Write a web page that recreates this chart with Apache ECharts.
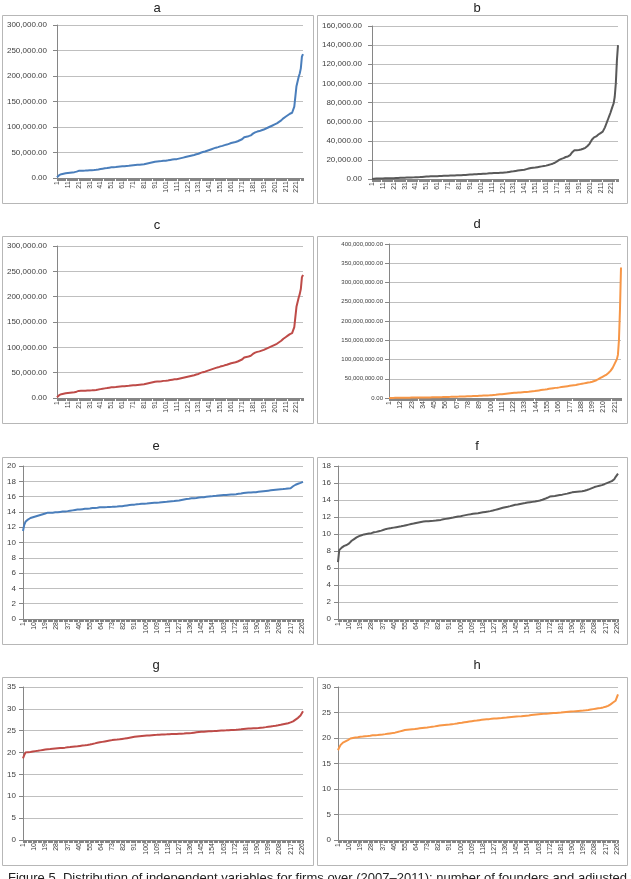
<!DOCTYPE html>
<html lang="en">
<head>
    <meta charset="UTF-8">
    <title>Figure 5</title>
    <script type="text/javascript" src="https://cdn.jsdelivr.net/npm/echarts@6/dist/echarts.min.js"></script>
    <style>
        html, body { margin: 0; padding: 0; background: #fff; }
        #main { width: 631px; height: 879px; }
    </style>
</head>
<body>
<div id="main"></div>
<script>
    // firm index 1..227 on every x axis
    var categories = [];
    for (var i = 1; i <= 227; i++) {
        categories.push(String(i));
    }

    // a and c (in thousands)
    var valuesA = [
        1.5, 4, 5.5, 6.5, 7.5, 8, 8.5, 9, 9.5, 10,
        10, 10.3, 10.5, 11, 11, 11.2, 11.5, 12, 12.5, 13.5,
        14, 14, 14.2, 14.3, 14.4, 14.5, 14.5, 14.6, 14.8, 15,
        15, 15.1, 15.2, 15.3, 15.5, 15.8, 16, 16.3, 16.7, 17,
        17.5, 18, 18.3, 18.6, 19, 19.3, 19.6, 20, 20.3, 20.6,
        21, 21.2, 21.3, 21.5, 21.7, 22, 22.2, 22.4, 22.6, 22.8,
        23, 23.1, 23.2, 23.4, 23.6, 23.8, 24, 24.2, 24.5, 24.8,
        25, 25.2, 25.4, 25.6, 25.8, 26, 26.2, 26.4, 26.6, 26.8,
        27, 27.5, 28, 28.5, 29, 29.5, 30, 30.5, 31, 31.5,
        32, 32.2, 32.4, 32.6, 32.8, 33, 33.2, 33.5, 33.8, 34,
        34, 34.3, 34.6, 35, 35.4, 35.8, 36.2, 36.5, 36.8, 37,
        37, 37.5, 38, 38.5, 39, 39.5, 40, 40.5, 41, 41.5,
        42, 42.5, 43, 43.5, 44, 44.5, 45, 45.5, 46.5, 47,
        47.5, 48.5, 49.5, 50.5, 51, 51.5, 52, 53, 53.5, 54,
        55, 56, 56.5, 57.5, 58, 58.5, 59.5, 60, 60.5, 61,
        62, 62.5, 63, 63.5, 64.5, 65, 65.5, 66.5, 67, 68,
        68.5, 69, 69.5, 70, 70.5, 71, 72, 73, 74, 75,
        76, 79, 80, 80.5, 81, 81.5, 82, 82.5, 83.5, 85,
        87, 88.5, 89.5, 90, 91, 91.5, 92, 93, 93.5, 94,
        95, 96, 97, 98, 99, 100, 101, 102, 103, 104,
        105, 106, 107, 108.5, 110, 111.5, 113, 115, 117, 119,
        120, 121.5, 123, 124.5, 126, 127, 128, 131, 140, 160,
        180, 182, 198, 205, 215, 238, 243
    ];
    var valuesC = valuesA;

    // b (in thousands)
    var valuesB = [
        0.1, 0.2, 0.3, 0.3, 0.4, 0.4, 0.5, 0.5, 0.5, 0.6,
        0.6, 0.6, 0.7, 0.7, 0.7, 0.8, 0.8, 0.8, 0.9, 0.9,
        0.9, 1.0, 1.0, 1.0, 1.1, 1.1, 1.2, 1.2, 1.3, 1.3,
        1.4, 1.4, 1.5, 1.5, 1.5, 1.6, 1.6, 1.7, 1.7, 1.8,
        1.8, 1.9, 1.9, 2.0, 2.0, 2.1, 2.2, 2.3, 2.4, 2.5,
        2.6, 2.6, 2.7, 2.7, 2.8, 2.8, 2.9, 2.9, 3.0, 3.0,
        3.0, 3.1, 3.1, 3.2, 3.2, 3.3, 3.3, 3.4, 3.4, 3.5,
        3.5, 3.5, 3.6, 3.6, 3.6, 3.7, 3.7, 3.8, 3.8, 3.9,
        3.9, 4.0, 4.0, 4.1, 4.2, 4.2, 4.3, 4.4, 4.5, 4.5,
        4.6, 4.7, 4.7, 4.8, 4.9, 4.9, 5.0, 5.0, 5.1, 5.1,
        5.2, 5.3, 5.4, 5.5, 5.6, 5.6, 5.7, 5.8, 5.9, 6.0,
        6.0, 6.1, 6.2, 6.2, 6.3, 6.4, 6.4, 6.5, 6.5, 6.6,
        6.6, 6.7, 6.8, 6.9, 7.0, 7.2, 7.4, 7.6, 7.8, 7.9,
        8.0, 8.2, 8.4, 8.6, 8.8, 9.0, 9.1, 9.2, 9.4, 9.5,
        9.7, 10.0, 10.3, 10.6, 10.9, 11.2, 11.4, 11.6, 11.8, 11.9,
        12.0, 12.2, 12.4, 12.6, 12.8, 13.0, 13.2, 13.4, 13.6, 13.8,
        14.0, 14.3, 14.6, 15.0, 15.3, 15.6, 16.0, 16.5, 17.0, 17.6,
        18.4, 19.2, 20.0, 20.6, 21.0, 21.3, 21.8, 22.4, 23.0, 23.3,
        23.6, 24.0, 25.0, 26.5, 28.0, 29.5, 30.0, 30.0, 30.1, 30.2,
        30.3, 30.5, 30.8, 31.2, 31.6, 32.0, 32.6, 33.4, 34.5, 35.8,
        37.0, 39.0, 41.0, 43.0, 43.5, 44.0, 44.5, 45.0, 46.5, 47.2,
        48.0, 48.6, 49.5, 51.5, 54.0, 57.0, 60.0, 63.0, 66.0, 69.0,
        72.5, 76.0, 79.0, 86.0, 100.0, 124.0, 140.0
    ];

    // d (in millions)
    var valuesD = [
        0.1, 0.2, 0.2, 0.3, 0.3, 0.4, 0.4, 0.5, 0.5, 0.5,
        0.6, 0.6, 0.7, 0.7, 0.7, 0.8, 0.8, 0.8, 0.9, 0.9,
        0.9, 1.0, 1.0, 1.0, 1.1, 1.1, 1.1, 1.2, 1.2, 1.2,
        1.3, 1.3, 1.3, 1.4, 1.4, 1.4, 1.5, 1.5, 1.5, 1.6,
        1.6, 1.7, 1.7, 1.8, 1.8, 1.9, 1.9, 2.0, 2.0, 2.1,
        2.2, 2.2, 2.3, 2.4, 2.5, 2.6, 2.7, 2.8, 2.9, 3.0,
        3.0, 3.1, 3.2, 3.3, 3.3, 3.4, 3.5, 3.6, 3.6, 3.7,
        3.8, 3.9, 4.0, 4.0, 4.1, 4.2, 4.3, 4.4, 4.5, 4.6,
        4.7, 4.8, 4.9, 5.0, 5.1, 5.2, 5.4, 5.6, 5.8, 6.0,
        6.1, 6.2, 6.3, 6.4, 6.5, 6.6, 6.7, 6.8, 6.9, 7.0,
        7.2, 7.5, 7.8, 8.0, 8.3, 8.6, 8.9, 9.2, 9.5, 9.8,
        10.0, 10.3, 10.6, 10.9, 11.2, 11.5, 11.8, 12.1, 12.4, 12.7,
        13.0, 13.2, 13.4, 13.6, 13.8, 14.0, 14.2, 14.4, 14.6, 14.8,
        15.0, 15.2, 15.4, 15.6, 15.8, 16.0, 16.3, 16.6, 16.9, 17.2,
        17.5, 17.8, 18.1, 18.5, 18.9, 19.3, 19.7, 20.1, 20.5, 20.9,
        21.3, 21.7, 22.1, 22.5, 23.0, 23.5, 24.0, 24.4, 24.8, 25.2,
        25.6, 26.0, 26.3, 26.6, 26.9, 27.2, 27.6, 28.0, 28.4, 28.8,
        29.2, 29.6, 30.0, 30.4, 30.8, 31.2, 31.6, 32.0, 32.4, 32.8,
        33.2, 33.6, 34.0, 34.5, 35.0, 35.5, 36.0, 36.5, 37.0, 37.5,
        38.0, 38.5, 39.0, 39.5, 40.0, 40.5, 41.0, 41.5, 42.2, 43.0,
        44.0, 45.0, 46.2, 47.5, 49.0, 50.5, 52.0, 53.5, 55.0, 56.5,
        58.0, 59.5, 61.0, 63.0, 65.5, 68.0, 71.0, 75.0, 79.0, 84.0,
        90.0, 95.0, 101.0, 112.0, 150.0, 230.0, 339.0
    ];

    var valuesE = [
        11.5, 12.3, 12.7, 12.9, 13.0, 13.1, 13.2, 13.25, 13.3, 13.35,
        13.4, 13.45, 13.5, 13.55, 13.6, 13.65, 13.7, 13.75, 13.8, 13.85,
        13.9, 13.9, 13.9, 13.9, 13.9, 13.9, 13.95, 13.95, 13.95, 14.0,
        14.0, 14.0, 14.05, 14.05, 14.05, 14.1, 14.1, 14.1, 14.15, 14.15,
        14.2, 14.2, 14.25, 14.25, 14.3, 14.3, 14.3, 14.35, 14.35, 14.4,
        14.4, 14.4, 14.42, 14.45, 14.45, 14.47, 14.5, 14.5, 14.52, 14.55,
        14.55, 14.57, 14.6, 14.6, 14.6, 14.6, 14.62, 14.62, 14.63, 14.64,
        14.65, 14.65, 14.66, 14.67, 14.68, 14.7, 14.7, 14.72, 14.73, 14.74,
        14.75, 14.77, 14.8, 14.82, 14.85, 14.87, 14.9, 14.92, 14.93, 14.94,
        14.95, 14.97, 15.0, 15.0, 15.02, 15.04, 15.05, 15.07, 15.08, 15.1,
        15.1, 15.12, 15.13, 15.15, 15.16, 15.17, 15.18, 15.19, 15.2, 15.22,
        15.23, 15.25, 15.27, 15.29, 15.3, 15.32, 15.33, 15.35, 15.37, 15.38,
        15.4, 15.42, 15.43, 15.45, 15.47, 15.48, 15.5, 15.53, 15.56, 15.59,
        15.62, 15.65, 15.68, 15.7, 15.72, 15.75, 15.77, 15.79, 15.8, 15.82,
        15.83, 15.85, 15.87, 15.88, 15.9, 15.92, 15.93, 15.95, 15.97, 15.98,
        16.0, 16.01, 16.03, 16.05, 16.07, 16.08, 16.1, 16.12, 16.14, 16.16,
        16.18, 16.19, 16.2, 16.21, 16.22, 16.23, 16.25, 16.26, 16.27, 16.28,
        16.29, 16.3, 16.32, 16.34, 16.36, 16.38, 16.4, 16.43, 16.46, 16.48,
        16.5, 16.51, 16.52, 16.53, 16.54, 16.55, 16.56, 16.57, 16.58, 16.6,
        16.62, 16.64, 16.66, 16.68, 16.7, 16.72, 16.74, 16.76, 16.78, 16.8,
        16.82, 16.84, 16.86, 16.88, 16.9, 16.92, 16.94, 16.95, 16.96, 16.97,
        16.98, 17.0, 17.02, 17.05, 17.07, 17.08, 17.1, 17.2, 17.35, 17.45,
        17.55, 17.62, 17.68, 17.75, 17.8, 17.87, 17.93
    ];

    var valuesF = [
        6.7, 8.1, 8.3, 8.4, 8.5, 8.6, 8.65, 8.7, 8.8, 8.9,
        9.05, 9.2, 9.3, 9.4, 9.5, 9.6, 9.7, 9.75, 9.8, 9.85,
        9.9, 9.95, 10.0, 10.0, 10.02, 10.05, 10.07, 10.1, 10.15, 10.2,
        10.22, 10.25, 10.3, 10.33, 10.36, 10.4, 10.45, 10.5, 10.55, 10.6,
        10.63, 10.66, 10.7, 10.7, 10.72, 10.75, 10.77, 10.8, 10.82, 10.85,
        10.88, 10.9, 10.93, 10.96, 11.0, 11.03, 11.06, 11.1, 11.13, 11.17,
        11.2, 11.23, 11.26, 11.3, 11.33, 11.36, 11.39, 11.42, 11.44, 11.46,
        11.48, 11.5, 11.5, 11.51, 11.52, 11.53, 11.54, 11.55, 11.56, 11.58,
        11.6, 11.62, 11.64, 11.66, 11.7, 11.73, 11.76, 11.78, 11.8, 11.83,
        11.85, 11.88, 11.9, 11.93, 11.96, 11.99, 12.02, 12.05, 12.07, 12.1,
        12.13, 12.16, 12.19, 12.22, 12.25, 12.28, 12.3, 12.32, 12.35, 12.37,
        12.39, 12.41, 12.43, 12.45, 12.47, 12.5, 12.52, 12.55, 12.57, 12.6,
        12.62, 12.64, 12.66, 12.69, 12.72, 12.76, 12.8, 12.84, 12.88, 12.92,
        12.96, 13.0, 13.04, 13.08, 13.12, 13.15, 13.18, 13.21, 13.24, 13.28,
        13.32, 13.36, 13.4, 13.43, 13.45, 13.48, 13.51, 13.54, 13.57, 13.6,
        13.62, 13.64, 13.67, 13.7, 13.72, 13.74, 13.76, 13.78, 13.8, 13.82,
        13.84, 13.87, 13.9, 13.94, 13.98, 14.03, 14.08, 14.14, 14.2, 14.26,
        14.32, 14.4, 14.42, 14.44, 14.46, 14.48, 14.5, 14.53, 14.56, 14.58,
        14.6, 14.63, 14.66, 14.69, 14.72, 14.75, 14.79, 14.83, 14.87, 14.9,
        14.92, 14.94, 14.96, 14.98, 15.0, 15.01, 15.02, 15.03, 15.05, 15.08,
        15.12, 15.17, 15.22, 15.28, 15.34, 15.4, 15.46, 15.52, 15.56, 15.6,
        15.64, 15.68, 15.72, 15.75, 15.8, 15.86, 15.92, 15.98, 16.05, 16.1,
        16.16, 16.22, 16.3, 16.45, 16.7, 16.9, 17.1
    ];

    var valuesG = [
        18.7, 19.4, 20.0, 20.05, 20.1, 20.12, 20.15, 20.2, 20.25, 20.3,
        20.33, 20.37, 20.4, 20.45, 20.5, 20.55, 20.6, 20.65, 20.7, 20.72,
        20.75, 20.78, 20.8, 20.83, 20.86, 20.9, 20.92, 20.95, 20.97, 21.0,
        21.02, 21.05, 21.07, 21.1, 21.13, 21.16, 21.2, 21.23, 21.26, 21.3,
        21.33, 21.36, 21.4, 21.43, 21.46, 21.5, 21.53, 21.56, 21.6, 21.63,
        21.67, 21.7, 21.75, 21.8, 21.85, 21.9, 21.97, 22.04, 22.1, 22.17,
        22.24, 22.3, 22.35, 22.4, 22.45, 22.5, 22.55, 22.6, 22.65, 22.7,
        22.75, 22.8, 22.85, 22.88, 22.91, 22.94, 22.97, 23.0, 23.04, 23.08,
        23.12, 23.15, 23.2, 23.25, 23.3, 23.35, 23.4, 23.45, 23.5, 23.55,
        23.6, 23.63, 23.66, 23.69, 23.72, 23.75, 23.78, 23.8, 23.83, 23.85,
        23.88, 23.9, 23.92, 23.95, 23.97, 24.0, 24.02, 24.04, 24.05, 24.07,
        24.09, 24.11, 24.13, 24.15, 24.16, 24.17, 24.18, 24.2, 24.21, 24.22,
        24.23, 24.24, 24.25, 24.26, 24.27, 24.28, 24.3, 24.31, 24.33, 24.35,
        24.36, 24.38, 24.4, 24.42, 24.44, 24.45, 24.48, 24.52, 24.56, 24.6,
        24.64, 24.68, 24.71, 24.73, 24.75, 24.77, 24.79, 24.81, 24.83, 24.85,
        24.86, 24.88, 24.89, 24.9, 24.92, 24.94, 24.96, 24.98, 25.0, 25.02,
        25.03, 25.05, 25.06, 25.07, 25.09, 25.11, 25.13, 25.15, 25.17, 25.18,
        25.19, 25.2, 25.22, 25.24, 25.26, 25.29, 25.32, 25.35, 25.39, 25.42,
        25.45, 25.47, 25.49, 25.51, 25.53, 25.55, 25.56, 25.58, 25.59, 25.6,
        25.63, 25.66, 25.69, 25.72, 25.75, 25.78, 25.82, 25.86, 25.9, 25.94,
        25.98, 26.02, 26.06, 26.1, 26.15, 26.2, 26.25, 26.3, 26.36, 26.42,
        26.48, 26.54, 26.6, 26.65, 26.72, 26.8, 26.9, 27.0, 27.15, 27.35,
        27.55, 27.75, 27.95, 28.15, 28.5, 28.9, 29.45
    ];

    var valuesH = [
        17.6, 18.15, 18.6, 18.9, 19.1, 19.25, 19.35, 19.45, 19.6, 19.75,
        19.9, 19.95, 20.0, 20.05, 20.1, 20.13, 20.16, 20.2, 20.25, 20.28,
        20.3, 20.33, 20.36, 20.38, 20.4, 20.42, 20.45, 20.5, 20.52, 20.54,
        20.56, 20.58, 20.6, 20.62, 20.65, 20.68, 20.7, 20.73, 20.76, 20.8,
        20.83, 20.86, 20.9, 20.93, 20.97, 21.0, 21.05, 21.1, 21.16, 21.22,
        21.3, 21.37, 21.43, 21.5, 21.55, 21.58, 21.61, 21.64, 21.67, 21.7,
        21.72, 21.75, 21.77, 21.8, 21.83, 21.86, 21.89, 21.92, 21.95, 21.98,
        22.01, 22.03, 22.05, 22.09, 22.13, 22.17, 22.21, 22.25, 22.28, 22.32,
        22.36, 22.4, 22.43, 22.46, 22.49, 22.52, 22.55, 22.58, 22.6, 22.63,
        22.65, 22.68, 22.71, 22.74, 22.77, 22.8, 22.84, 22.88, 22.92, 22.95,
        22.99, 23.03, 23.07, 23.11, 23.15, 23.19, 23.23, 23.27, 23.3, 23.33,
        23.36, 23.39, 23.42, 23.46, 23.5, 23.53, 23.56, 23.6, 23.62, 23.64,
        23.66, 23.68, 23.7, 23.73, 23.76, 23.78, 23.8, 23.82, 23.84, 23.87,
        23.89, 23.91, 23.93, 23.96, 23.98, 24.0, 24.02, 24.05, 24.07, 24.1,
        24.12, 24.14, 24.16, 24.18, 24.2, 24.22, 24.24, 24.26, 24.28, 24.31,
        24.33, 24.36, 24.38, 24.4, 24.43, 24.46, 24.49, 24.52, 24.55, 24.58,
        24.6, 24.63, 24.65, 24.67, 24.69, 24.71, 24.73, 24.75, 24.77, 24.79,
        24.8, 24.82, 24.84, 24.86, 24.88, 24.9, 24.92, 24.95, 24.97, 24.99,
        25.0, 25.02, 25.05, 25.07, 25.1, 25.12, 25.14, 25.16, 25.18, 25.2,
        25.22, 25.24, 25.26, 25.28, 25.3, 25.32, 25.34, 25.36, 25.38, 25.4,
        25.43, 25.46, 25.5, 25.54, 25.58, 25.62, 25.66, 25.7, 25.74, 25.78,
        25.82, 25.86, 25.9, 25.95, 26.0, 26.05, 26.12, 26.2, 26.3, 26.45,
        26.6, 26.78, 26.95, 27.1, 27.3, 27.5, 28.55
    ];

    var panelNames = ['a', 'b', 'c', 'd', 'e', 'f', 'g', 'h'];
    var caption = 'Figure 5. Distribution of independent variables for firms over (2007\u20132011): number of founders and adjusted values';

    var BLUE = '#4a7ebb', GRAY = '#595959', RED = '#be4b48', ORANGE = '#f79646';

    function money(v) {
        return v.toLocaleString('en-US', {minimumFractionDigits: 2, maximumFractionDigits: 2});
    }

    // layout of each panel: plot area, frame, title pos
    var panels = [
        {data: valuesA.map(function (v) { return v * 1000; }), color: BLUE, max: 300000, step: 50000, money: true,
            grid: [57, 25, 246, 153], box: [2, 15, 311, 188], t: [157, 7], lblGap: 10, lblSize: 8, xInt: 9},
        {data: valuesB.map(function (v) { return v * 1000; }), color: GRAY, max: 160000, step: 20000, money: true,
            grid: [372, 26, 246, 153], box: [317, 15, 310, 188], t: [477, 7], lblGap: 10, lblSize: 8, xInt: 9},
        {data: valuesC.map(function (v) { return v * 1000; }), color: RED, max: 300000, step: 50000, money: true,
            grid: [57, 246, 246, 152], box: [2, 236, 311, 187], t: [157, 224], lblGap: 10, lblSize: 8, xInt: 9},
        {data: valuesD.map(function (v) { return v * 1000000; }), color: ORANGE, max: 400000000, step: 50000000, money: true,
            grid: [389, 244, 232, 154], box: [317, 236, 310, 187], t: [477, 223], lblGap: 6, lblSize: 6, xInt: 10},
        {data: valuesE, color: BLUE, max: 20, step: 2, grid: [23, 466, 280, 153], box: [2, 457, 311, 187], t: [156, 445], lblGap: 7, lblSize: 8, xInt: 8},
        {data: valuesF, color: GRAY, max: 18, step: 2, grid: [338, 466, 280, 153], box: [317, 457, 310, 187], t: [477, 445], lblGap: 7, lblSize: 8, xInt: 8},
        {data: valuesG, color: RED, max: 35, step: 5, grid: [23, 687, 280, 153], box: [2, 677, 311, 188], t: [156, 664], lblGap: 7, lblSize: 8, xInt: 8},
        {data: valuesH, color: ORANGE, max: 30, step: 5, grid: [338, 687, 280, 153], box: [317, 677, 310, 188], t: [477, 664], lblGap: 7, lblSize: 8, xInt: 8}
    ];

    var grids = [], xAxes = [], yAxes = [], series = [], titles = [], graphics = [];

    panels.forEach(function (p, k) {
        graphics.push({
            type: 'rect', z: -1,
            shape: {x: p.box[0] + 0.5, y: p.box[1] + 0.5, width: p.box[2], height: p.box[3]},
            style: {fill: '#fff', stroke: '#b7b7b7', lineWidth: 1}
        });
        titles.push({
            text: panelNames[k], left: p.t[0], top: p.t[1] - 5, textAlign: 'center', padding: 0,
            textStyle: {fontFamily: 'Liberation Sans', fontSize: 13, fontWeight: 'normal', color: '#222'}
        });
        grids.push({left: p.grid[0], top: p.grid[1], width: p.grid[2], height: p.grid[3]});
        xAxes.push({
            type: 'category', gridIndex: k, data: categories, boundaryGap: false,
            axisLine: {lineStyle: {color: '#868686'}},
            axisTick: {interval: 0, length: 3, lineStyle: {color: '#868686'}},
            axisLabel: {
                interval: p.xInt, rotate: 90, margin: 3, fontSize: 7,
                fontFamily: 'Liberation Sans', color: '#404040'
            }
        });
        yAxes.push({
            type: 'value', gridIndex: k, min: 0, max: p.max, interval: p.step,
            axisLine: {show: true, lineStyle: {color: '#868686'}},
            axisTick: {show: true, length: 4, lineStyle: {color: '#868686'}},
            splitLine: {lineStyle: {color: '#bfbfbf'}},
            axisLabel: {
                margin: p.lblGap, fontSize: p.lblSize, fontFamily: 'Liberation Sans', color: '#404040',
                formatter: p.money ? money : null
            }
        });
        series.push({
            type: 'line', xAxisIndex: k, yAxisIndex: k, data: p.data,
            symbol: 'none', smooth: false,
            lineStyle: {width: 2, color: p.color}
        });
    });

    graphics.push({
        type: 'text', left: 8, top: 872,
        style: {text: caption, font: '13px "Liberation Sans"', fill: '#222'}
    });

    var myChart = echarts.init(document.getElementById('main'));
    myChart.setOption({
        animation: false,
        backgroundColor: '#fff',
        title: titles,
        grid: grids,
        xAxis: xAxes,
        yAxis: yAxes,
        series: series,
        graphic: graphics
    });
</script>
</body>
</html>
